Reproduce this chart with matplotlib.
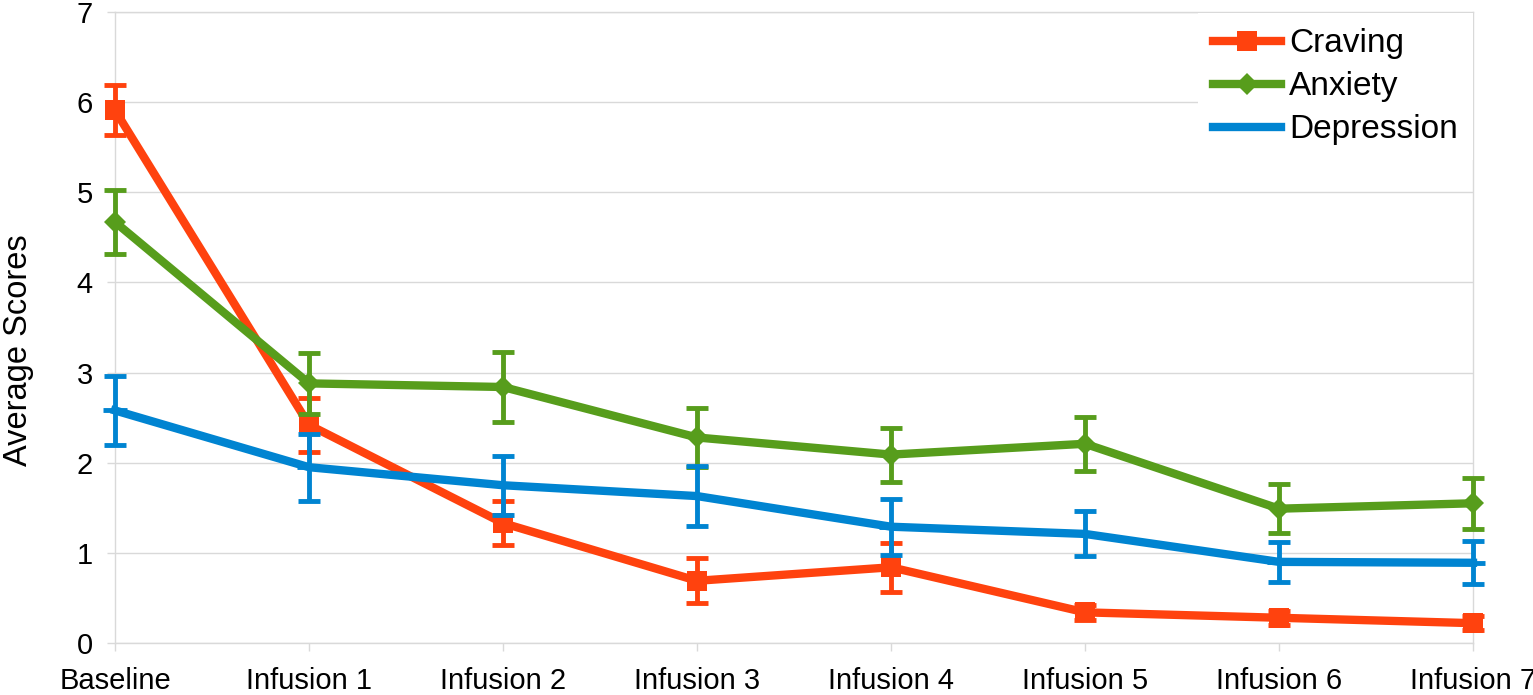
import numpy as np
import matplotlib.pyplot as plt

plt.rcParams["font.family"] = ["Liberation Sans", "DejaVu Sans"]

stages = ["Baseline", "Infusion 1", "Infusion 2", "Infusion 3",
          "Infusion 4", "Infusion 5", "Infusion 6", "Infusion 7"]

craving = [5.91, 2.42, 1.33, 0.69, 0.84, 0.34, 0.28, 0.22]
craving_err = [0.28, 0.30, 0.24, 0.25, 0.27, 0.08, 0.08, 0.08]

anxiety = [4.67, 2.88, 2.84, 2.28, 2.09, 2.21, 1.49, 1.55]
anxiety_err = [0.35, 0.34, 0.39, 0.33, 0.30, 0.30, 0.27, 0.28]

depression = [2.58, 1.95, 1.75, 1.63, 1.29, 1.21, 0.90, 0.89]
depression_err = [0.38, 0.37, 0.33, 0.33, 0.31, 0.25, 0.22, 0.24]

grid_color = "#d9d9d9"

fig = plt.figure(figsize=(15.33, 6.95), dpi=100)
ax = fig.add_axes([115 / 1533, 1 - 643 / 695, (1473 - 115) / 1533, (643 - 12) / 695])

x = np.arange(len(stages))

series = [
    ("Craving", craving, craving_err, "#ff420e", "s", 14),
    ("Anxiety", anxiety, anxiety_err, "#579d1c", "D", 11),
    ("Depression", depression, depression_err, "#0084d1", "_", 17),
]

handles = []
for name, vals, errs, color, marker, ms in series:
    ax.errorbar(
        x, vals, yerr=errs, fmt="none",
        ecolor=color, elinewidth=3.5, capsize=8, capthick=3.5,
        clip_on=False, zorder=3
    )
    line, = ax.plot(
        x, vals, color=color, lw=6, marker=marker, markersize=ms,
        markeredgewidth=3.5 if marker == "_" else 0,
        label=name, clip_on=False, zorder=3
    )
    handles.append(line)

ax.set_xlim(0, len(stages) - 1)
ax.set_ylim(0, 7)
ax.set_xticks(x)
ax.set_xticklabels(stages)
ax.set_yticks(range(0, 8))

ax.yaxis.grid(True, color=grid_color, lw=1)
ax.set_axisbelow(True)
for side in ["left", "right", "top", "bottom"]:
    ax.spines[side].set_color(grid_color)
    ax.spines[side].set_linewidth(1)

ax.tick_params(axis="both", labelsize=21, color=grid_color, length=6, width=1)
ax.tick_params(axis="x", pad=11)
ax.tick_params(axis="y", pad=10)

ax.set_ylabel("Average Scores", fontsize=23.5)
ax.yaxis.set_label_coords(-0.06, 0.464)

leg = ax.legend(
    handles=handles, loc="upper right", bbox_to_anchor=(1.0, 0.998),
    fontsize=24, frameon=True, fancybox=False,
    handlelength=2.05, labelspacing=0.36, borderaxespad=0.0,
    borderpad=0.45, handletextpad=0.25
)
leg.get_frame().set_edgecolor("none")
leg.get_frame().set_facecolor("white")
leg.get_frame().set_alpha(1)
leg.set_zorder(5)

fig.savefig("out.png", dpi=100)
